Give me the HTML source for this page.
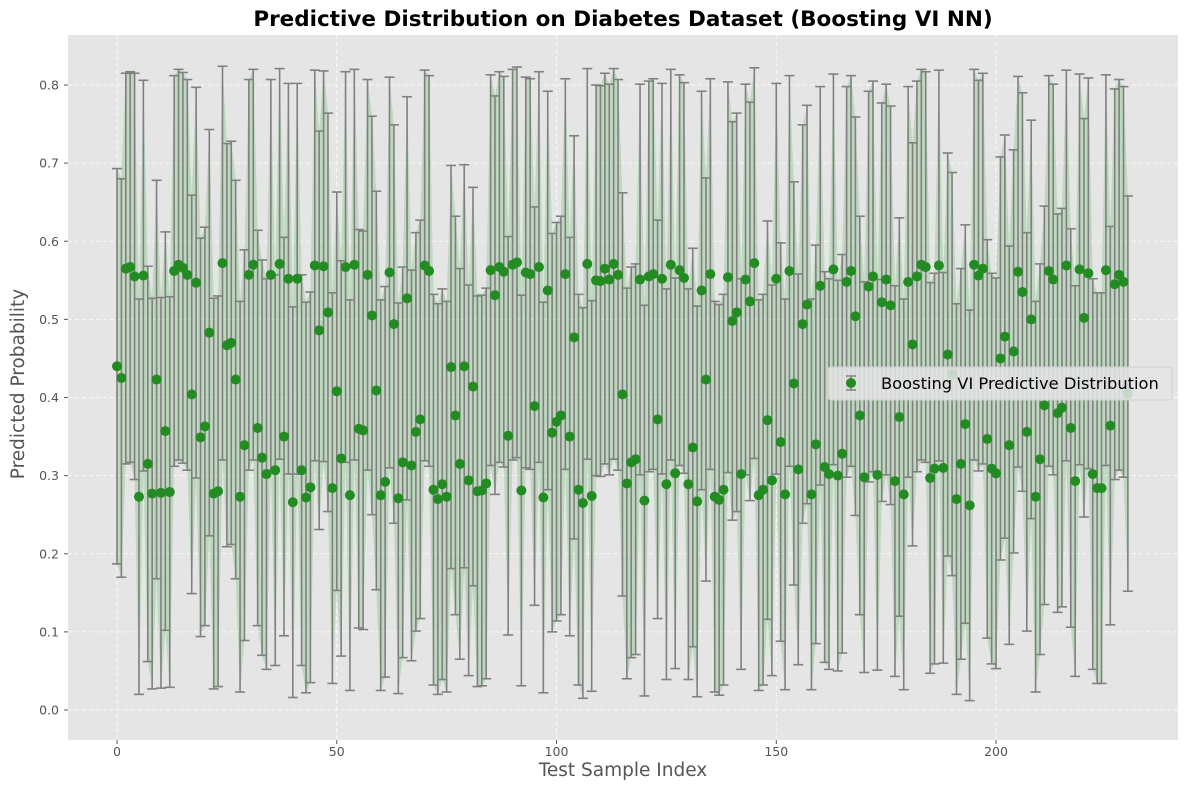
<!DOCTYPE html>
<html><head><meta charset="utf-8">
<style>
body{margin:0;background:#fff;}
svg{display:block;font-family:"DejaVu Sans","Liberation Sans",sans-serif;}
</style></head>
<body>
<svg id="chart" width="1189" height="790" xmlns="http://www.w3.org/2000/svg">
<rect width="1189" height="790" fill="#fff"/>
<text x="623" y="26" text-anchor="middle" font-size="21.5" font-weight="bold" fill="#000">Predictive Distribution on Diabetes Dataset (Boosting VI NN)</text>
<rect x="68" y="35" width="1110" height="705" fill="#e5e5e5"/>
<g id="grid"></g>
<g id="band"></g>
<g id="bars"></g>
<g id="points"></g>
<g id="axes"></g>
<text x="623" y="776" text-anchor="middle" font-size="18.5" fill="#555">Test Sample Index</text>
<text transform="translate(24,384) rotate(-90)" text-anchor="middle" font-size="18.5" fill="#555">Predicted Probability</text>
<g>
<rect x="828" y="367" width="344" height="33" rx="3" fill="#e5e5e5" fill-opacity="0.85" stroke="#d0d0d0"/>
<line x1="851" y1="376" x2="851" y2="390" stroke="#808080" stroke-width="1.5"/>
<line x1="846" y1="376" x2="856" y2="376" stroke="#808080" stroke-width="1.5"/>
<line x1="846" y1="390" x2="856" y2="390" stroke="#808080" stroke-width="1.5"/>
<circle cx="851" cy="383" r="5" fill="#228b22"/>
<text x="881" y="389" font-size="16.3" fill="#000">Boosting VI Predictive Distribution</text>
</g>
</svg>
<script>
const means=[0.44,0.425,0.565,0.567,0.555,0.273,0.556,0.315,0.277,0.423,0.278,0.357,0.279,0.562,0.57,0.566,0.557,0.404,0.547,0.349,0.363,0.483,0.277,0.28,0.572,0.467,0.47,0.423,0.273,0.339,0.557,0.57,0.361,0.323,0.302,0.557,0.307,0.571,0.35,0.552,0.266,0.552,0.307,0.272,0.285,0.569,0.486,0.568,0.509,0.284,0.408,0.322,0.567,0.275,0.57,0.36,0.358,0.557,0.505,0.409,0.275,0.292,0.56,0.494,0.271,0.317,0.527,0.313,0.356,0.372,0.569,0.562,0.282,0.27,0.289,0.273,0.439,0.377,0.315,0.44,0.294,0.414,0.28,0.281,0.29,0.563,0.531,0.567,0.561,0.351,0.57,0.573,0.281,0.56,0.558,0.389,0.567,0.272,0.537,0.355,0.369,0.377,0.558,0.35,0.477,0.282,0.265,0.571,0.274,0.55,0.549,0.565,0.551,0.571,0.557,0.404,0.29,0.317,0.321,0.551,0.268,0.555,0.558,0.372,0.552,0.289,0.57,0.303,0.563,0.553,0.289,0.336,0.267,0.537,0.423,0.558,0.273,0.269,0.282,0.554,0.498,0.509,0.302,0.551,0.523,0.572,0.275,0.282,0.371,0.294,0.552,0.343,0.276,0.562,0.418,0.308,0.494,0.519,0.276,0.34,0.543,0.311,0.302,0.564,0.3,0.328,0.548,0.562,0.504,0.377,0.298,0.542,0.555,0.301,0.522,0.551,0.518,0.293,0.375,0.276,0.548,0.468,0.555,0.57,0.567,0.297,0.309,0.569,0.31,0.455,0.43,0.27,0.315,0.366,0.262,0.57,0.556,0.565,0.347,0.309,0.303,0.45,0.478,0.339,0.459,0.561,0.535,0.356,0.5,0.273,0.321,0.39,0.562,0.551,0.38,0.387,0.569,0.361,0.293,0.564,0.502,0.559,0.302,0.284,0.284,0.563,0.364,0.545,0.557,0.548,0.405];
const halfWidths=[0.253,0.255,0.25,0.25,0.26,0.253,0.25,0.253,0.25,0.255,0.25,0.255,0.25,0.25,0.25,0.25,0.25,0.255,0.25,0.255,0.255,0.26,0.25,0.25,0.252,0.258,0.258,0.255,0.25,0.25,0.25,0.25,0.253,0.253,0.25,0.25,0.25,0.25,0.255,0.25,0.25,0.25,0.25,0.25,0.25,0.25,0.255,0.25,0.255,0.25,0.255,0.253,0.25,0.25,0.25,0.255,0.255,0.25,0.255,0.255,0.25,0.25,0.25,0.255,0.25,0.25,0.258,0.25,0.255,0.255,0.25,0.25,0.25,0.25,0.25,0.25,0.258,0.255,0.25,0.258,0.25,0.255,0.25,0.25,0.25,0.25,0.255,0.25,0.25,0.255,0.25,0.25,0.25,0.25,0.25,0.255,0.25,0.25,0.255,0.255,0.255,0.255,0.25,0.255,0.258,0.25,0.25,0.25,0.25,0.25,0.25,0.25,0.25,0.25,0.25,0.258,0.25,0.25,0.25,0.25,0.25,0.25,0.25,0.255,0.25,0.25,0.25,0.25,0.25,0.25,0.25,0.255,0.25,0.255,0.258,0.25,0.25,0.25,0.25,0.25,0.255,0.255,0.25,0.25,0.255,0.25,0.25,0.25,0.255,0.25,0.25,0.255,0.25,0.25,0.258,0.25,0.255,0.255,0.25,0.255,0.255,0.25,0.25,0.25,0.25,0.255,0.25,0.25,0.255,0.255,0.25,0.25,0.25,0.25,0.255,0.25,0.255,0.25,0.255,0.25,0.25,0.258,0.25,0.25,0.25,0.25,0.25,0.25,0.25,0.258,0.258,0.25,0.25,0.255,0.25,0.25,0.25,0.25,0.255,0.25,0.25,0.258,0.258,0.255,0.258,0.25,0.255,0.255,0.255,0.25,0.25,0.255,0.25,0.25,0.255,0.255,0.25,0.255,0.25,0.25,0.255,0.25,0.25,0.25,0.25,0.25,0.255,0.25,0.25,0.25,0.253];
const xTicks=[0,50,100,150,200];
const yTicks=[0.0,0.1,0.2,0.3,0.4,0.5,0.6,0.7,0.8];
const yTickLabels=["0.0","0.1","0.2","0.3","0.4","0.5","0.6","0.7","0.8"];

const NS="http://www.w3.org/2000/svg";
const L=68,R=1178,T=35,B=740;
const xMin=-11.15,xMax=241.4,yMin=-0.0384,yMax=0.8640;
const xs=v=>L+(v-xMin)/(xMax-xMin)*(R-L);
const ys=v=>B-(v-yMin)/(yMax-yMin)*(B-T);
function mk(tag,attrs,parent){const e=document.createElementNS(NS,tag);for(const k in attrs)e.setAttribute(k,attrs[k]);parent.appendChild(e);return e;}

const grid=document.getElementById('grid'),axes=document.getElementById('axes');
yTicks.forEach((t,i)=>{
  const g=mk('line',{x1:L,x2:R,y1:ys(t),y2:ys(t),stroke:'#fff','stroke-dasharray':'4,3','stroke-width':0.8},grid);
  
  
  const tl=mk('text',{x:L-9,y:ys(t)+4.5,'text-anchor':'end','font-size':12.5,fill:'#555'},axes);
  tl.textContent=yTickLabels[i];
  
  
  mk('line',{x1:L-4,x2:L,y1:ys(t),y2:ys(t),stroke:'#555'},axes);
});
xTicks.forEach(t=>{
  const g=mk('line',{x1:xs(t),x2:xs(t),y1:T,y2:B,stroke:'#fff','stroke-dasharray':'4,3','stroke-width':0.8},grid);
  
  
  const tl=mk('text',{x:xs(t),y:B+16,'text-anchor':'middle','font-size':12.5,fill:'#555'},axes);
  tl.textContent=String(t);
  
  
  mk('line',{x1:xs(t),x2:xs(t),y1:B,y2:B+4,stroke:'#555'},axes);
});

let up=[],lo=[];
means.forEach((m,i)=>{up.push(xs(i)+','+ys(m+halfWidths[i]));lo.unshift(xs(i)+','+ys(m-halfWidths[i]));});
const band=mk('polygon',{points:up.concat(lo).join(' '),fill:'#4caf50','fill-opacity':0.25,stroke:'none'},document.getElementById('band'));



const bars=document.getElementById('bars'),pts=document.getElementById('points');
means.forEach((m,i)=>{
  const x=xs(i),y1=ys(m+halfWidths[i]),y2=ys(m-halfWidths[i]);
  const g=mk('g',{stroke:'#808080','stroke-width':1.6},bars);
  
  
  mk('line',{x1:x,x2:x,y1:y1,y2:y2},g);
  mk('line',{x1:x-5,x2:x+5,y1:y1,y2:y1},g);
  mk('line',{x1:x-5,x2:x+5,y1:y2,y2:y2},g);
  const c=mk('circle',{cx:x,cy:ys(m),r:5,fill:'#228b22'},pts);
  
  
});
</script>
</body></html>
